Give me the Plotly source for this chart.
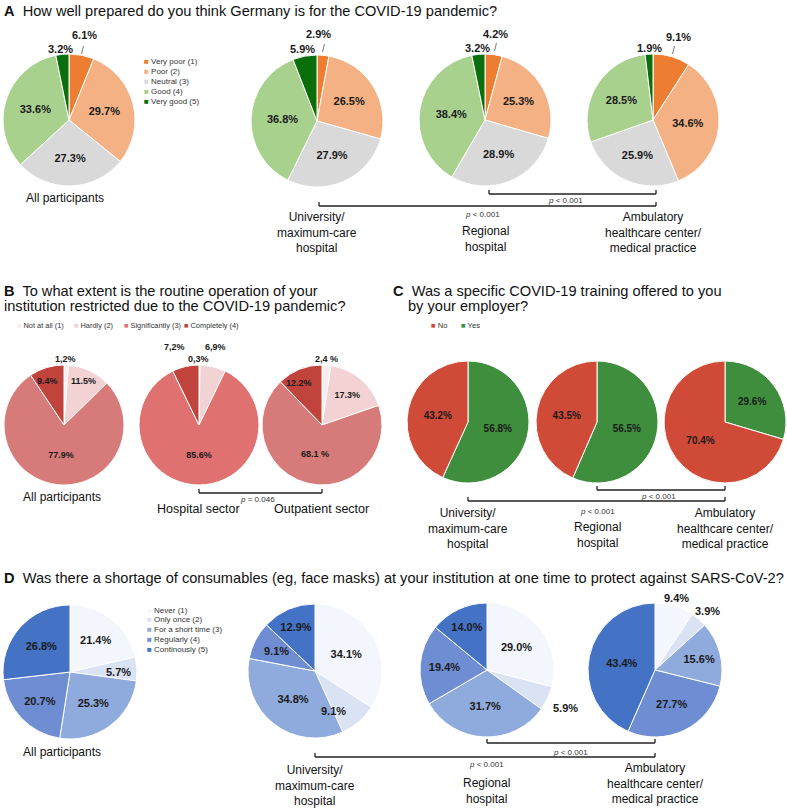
import plotly.graph_objects as go

W, H = 787, 808

# ---- data ----
a_cats = ["Very poor (1)", "Poor (2)", "Neutral (3)", "Good (4)", "Very good (5)"]
a_all = [6.1, 29.7, 27.3, 33.6, 3.2]
a_uni = [2.9, 26.5, 27.9, 36.8, 5.9]
a_reg = [4.2, 25.3, 28.9, 38.4, 3.2]
a_amb = [9.1, 34.6, 25.9, 28.5, 1.9]

b_cats = ["Not at all (1)", "Hardly (2)", "Significantly (3)", "Completely (4)"]
b_all = [1.2, 11.5, 77.9, 9.4]
b_hosp = [0.3, 6.9, 85.6, 7.2]
b_out = [2.4, 17.3, 68.1, 12.2]
b_all_lbl = ["1,2%", "11.5%", "77.9%", "9.4%"]
b_hosp_lbl = ["0,3%", "6,9%", "85.6%", "7,2%"]
b_out_lbl = ["2,4 %", "17.3%", "68.1 %", "12.2%"]

c_cats = ["No", "Yes"]
c_uni = [43.2, 56.8]
c_reg = [43.5, 56.5]
c_amb = [70.4, 29.6]

d_cats = ["Never (1)", "Only once (2)", "For a short time (3)", "Regularly (4)", "Continously (5)"]
d_all = [21.4, 5.7, 25.3, 20.7, 26.8]
d_uni = [34.1, 9.1, 34.8, 9.1, 12.9]
d_reg = [29.0, 5.9, 31.7, 19.4, 14.0]
d_amb = [9.4, 3.9, 15.6, 27.7, 43.4]

a_cols = ["#ED7D31", "#F4B183", "#D9D9D9", "#A9D18E", "#0A6E0A"]
b_cols = ["#FBEDED", "#F2D2D2", "#D67B79", "#C0443C"]
c_cols = ["#D04A38", "#3E8E3E"]
d_cols = ["#F3F6FC", "#DAE3F3", "#8FAADC", "#6E8DD2", "#4472C4"]

FONT = "Liberation Sans, Arial, sans-serif"


def px(x, y):
    return x / W, 1 - y / H


def pct(v):
    return "%.1f%%" % v


fig = go.Figure()


def add_pie(vals, cols, cx, cy, r, texts, pos, size):
    fig.add_trace(go.Pie(
        values=vals, labels=list(range(len(vals))), sort=False,
        direction="clockwise", rotation=0,
        marker=dict(colors=cols, line=dict(color="white", width=1)),
        text=texts, textinfo="text", textposition=pos,
        insidetextorientation="horizontal",
        textfont=dict(family=FONT, size=size, color="#1a1a1a", weight="bold"),
        domain=dict(x=[(cx - r) / W, (cx + r) / W], y=[1 - (cy + r) / H, 1 - (cy - r) / H]),
        showlegend=False, hoverinfo="skip"))


def inside_pos(vals, outs):
    return ["none" if i in outs else "inside" for i in range(len(vals))]


# panel A
for vals, cx, cy in [(a_all, 69, 120), (a_uni, 317, 121), (a_reg, 485, 120), (a_amb, 653, 120)]:
    add_pie(vals, a_cols, cx, cy, 66, [pct(v) for v in vals], inside_pos(vals, [0, 4]), 11)

# panel B
add_pie(b_all, b_cols, 64, 425, 60, b_all_lbl, inside_pos(b_all, [0, 1, 3]), 9)
add_pie(b_hosp, ["#FBEDED", "#F2D2D2", "#DF7271", "#C0443C"], 199, 425, 60, b_hosp_lbl,
        inside_pos(b_hosp, [0, 1, 3]), 9)
add_pie(b_out, b_cols, 322, 425, 60, b_out_lbl, inside_pos(b_out, [0, 3]), 9)

# panel C (Yes runs clockwise from 12 o'clock, No fills the rest)
for vals, cx in [(c_uni, 468), (c_reg, 597), (c_amb, 725)]:
    add_pie(vals[::-1], c_cols[::-1], cx, 422, 61, [pct(v) for v in vals[::-1]], "inside", 10)

# panel D
add_pie(d_all, d_cols, 70, 672, 67, [pct(v) for v in d_all], inside_pos(d_all, [1]), 11)
add_pie(d_uni, d_cols, 315, 671, 67, [pct(v) for v in d_uni], inside_pos(d_uni, [1, 3]), 11)
add_pie(d_reg, d_cols, 487, 670, 67, [pct(v) for v in d_reg], inside_pos(d_reg, [1]), 11)
add_pie(d_amb, d_cols, 655, 670, 67, [pct(v) for v in d_amb], inside_pos(d_amb, [0, 1]), 11)

ann = []
shapes = []


def text(x, y, s, size=12, xanchor="center", bold=False, color="#111"):
    ax, ay = px(x, y)
    ann.append(dict(x=ax, y=ay, xref="paper", yref="paper", text=s, showarrow=False,
                    xanchor=xanchor, yanchor="middle",
                    font=dict(family=FONT, size=size, color=color,
                              weight="bold" if bold else "normal")))


def vlabel(x, y, s, size=11):
    text(x, y, s, size=size, bold=True, color="#1a1a1a")


def bracket(x0, x1, y, pv, tx, ty):
    for (xa, ya, xb, yb) in [(x0, y, x1, y), (x0, y - 4, x0, y), (x1, y - 4, x1, y)]:
        p0 = px(xa, ya)
        p1 = px(xb, yb)
        shapes.append(dict(type="line", xref="paper", yref="paper", x0=p0[0], y0=p0[1],
                           x1=p1[0], y1=p1[1], line=dict(color="#222", width=1.3)))
    text(tx, ty, pv, size=8, color="#333")


def legend_col(x, y0, dy, cats, cols, size=8):
    for i, (c, col) in enumerate(zip(cats, cols)):
        text(x, y0 + i * dy, "<span style='color:%s'>■</span> %s" % (col, c), size=size,
             xanchor="left", color="#333")


# titles
TS = 14.6
text(2, 11, "<b>A</b>  How well prepared do you think Germany is for the COVID-19 pandemic?", TS, "left")
text(2, 291, "<b>B</b>  To what extent is the routine operation of your", TS, "left")
text(2, 306, "institution restricted due to the COVID-19 pandemic?", TS, "left")
text(391, 291, "<b>C</b>  Was a specific COVID-19 training offered to you", TS, "left")
text(406, 306, "by your employer?", TS, "left")
text(2, 578, "<b>D</b>  Was there a shortage of consumables (eg, face masks) at your institution at one time to protect against SARS-CoV-2?", TS, "left")

# legends
legend_col(142, 62, 9.8, a_cats, a_cols)
legend_col(145, 610, 9.8, d_cats, d_cols)
bx = [15, 72, 122, 182]
for i in range(4):
    text(bx[i], 325, "<span style='color:%s'>■</span> %s" % (b_cols[i] if i != 2 else "#DF7271", b_cats[i]),
         size=7.4, xanchor="left", color="#333")
text(429, 325, "<span style='color:%s'>■</span> No" % c_cols[0], 7.6, "left", color="#333")
text(459, 325, "<span style='color:%s'>■</span> Yes" % c_cols[1], 7.6, "left", color="#333")

# outside / small labels
vlabel(84, 35, pct(a_all[0])); text(82, 50, "/", 10, color="#555")
vlabel(60, 49, pct(a_all[4]))
vlabel(318, 34, pct(a_uni[0])); text(323, 48, "/", 10, color="#555")
vlabel(302, 49, pct(a_uni[4]))
vlabel(495, 34, pct(a_reg[0])); text(495, 47, "/", 10, color="#555")
vlabel(477, 48, pct(a_reg[4]))
vlabel(678, 37, pct(a_amb[0])); text(673, 50, "/", 10, color="#555")
vlabel(649, 48, pct(a_amb[4]))

vlabel(65, 359, b_all_lbl[0], 9)
vlabel(83, 381, b_all_lbl[1], 9)
vlabel(47, 381, b_all_lbl[3], 9)
vlabel(174, 347, b_hosp_lbl[3], 9)
vlabel(199, 359, b_hosp_lbl[0], 9)
vlabel(215, 347, b_hosp_lbl[1], 9)
vlabel(326, 359, b_out_lbl[0], 9)
vlabel(299, 383, b_out_lbl[3], 9)

vlabel(118, 672, pct(d_all[1]))
vlabel(333, 711, pct(d_uni[1]))
vlabel(276, 651, pct(d_uni[3]))
vlabel(565, 708, pct(d_reg[1]))
vlabel(676, 598, pct(d_amb[0]))
vlabel(707, 611, pct(d_amb[1]))

# category labels
uni = "University/<br>maximum-care<br>hospital"
reg = "Regional<br>hospital"
amb = "Ambulatory<br>healthcare center/<br>medical practice"
text(65, 198, "All participants", 12)
text(317, 232, uni, 12)
text(485, 239, reg, 12)
text(653, 232, amb, 12)
text(62, 497, "All participants", 12)
text(198, 509, "Hospital sector", 12.5)
text(321, 509, "Outpatient sector", 12.5)
text(468, 528, uni, 12)
text(597, 535, reg, 12)
text(725, 528, amb, 12)
text(62, 752, "All participants", 12)
text(315, 785, uni, 12)
text(487, 791, reg, 12)
text(655, 783, amb, 12)

# significance brackets
bracket(489, 656, 194, "<i>p</i> < 0.001", 565, 200)
bracket(319, 656, 206, "<i>p</i> < 0.001", 482, 214)
bracket(199, 322, 493, "<i>p</i> = 0.046", 257, 499)
bracket(597, 725, 490, "<i>p</i> < 0.001", 658, 496)
bracket(468, 725, 501, "<i>p</i> < 0.001", 597, 511)
bracket(487, 655, 743, "<i>p</i> < 0.001", 570, 752)
bracket(315, 655, 757, "<i>p</i> < 0.001", 487, 764)

fig.update_layout(width=W, height=H, margin=dict(l=0, r=0, t=0, b=0),
                  paper_bgcolor="white", plot_bgcolor="white",
                  annotations=ann, shapes=shapes, showlegend=False,
                  font=dict(family=FONT))

fig.write_html("out.html", config={"displayModeBar": False},
               post_script="document.body.style.margin='0px';")
